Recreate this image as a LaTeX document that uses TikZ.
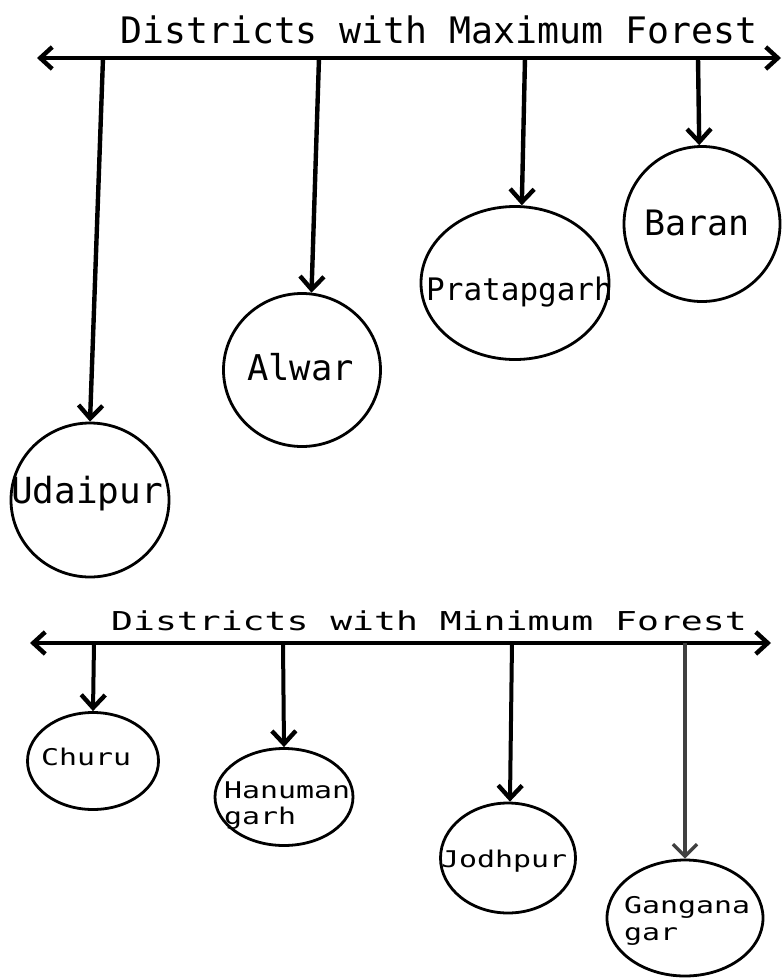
\documentclass[tikz,border=0pt]{standalone}
\usepackage{fontspec}
\usetikzlibrary{arrows.meta,shapes.geometric}
\newfontfamily\dmono{DejaVu Sans Mono}
\newfontfamily\dmonow[FakeStretch=1.4]{DejaVu Sans Mono}
\newfontfamily\dmonol[FakeStretch=1.3]{DejaVu Sans Mono}
\tikzset{
  axisline/.style={line width=4.4pt,{Straight Barb[length=12pt,width=22pt,line width=4.4pt]}-{Straight Barb[length=12pt,width=22pt,line width=4.4pt]}},
  drop/.style={line width=4.4pt,-{Straight Barb[length=13pt,width=24pt,line width=4.4pt]}},
  dropthin/.style={line width=3.4pt,draw=black!75,-{Straight Barb[length=12pt,width=24pt,line width=3.4pt]}},
  district/.style={draw,ellipse,line width=2.8pt,inner sep=0pt},
  lbl/.style={anchor=base west,inner sep=0pt},
  toplbl/.style={lbl,font=\dmono\fontsize{#1}{#1}\selectfont},
  bottitle/.style={lbl,font=\dmonow\fontsize{#1}{#1}\selectfont},
  botlbl/.style={lbl,font=\dmonol\fontsize{#1}{#1}\selectfont},
}
\begin{document}
\begin{tikzpicture}[x=1pt,y=-1pt]
\useasboundingbox[fill=white] (0,0) rectangle (783,978);
% ---------- maximum forest ----------
\node[toplbl=36.5pt] (ttop) at (120,43) {Districts with Maximum Forest};
\coordinate (tl) at (37,58);
\coordinate (tr) at (781,58);
\draw[axisline] (tl) -- (tr);
\coordinate (a1) at (103,58);
\coordinate (a2) at (319,58);
\coordinate (a3) at (525,58);
\coordinate (a4) at (698,58);
\node[district,minimum width=158pt,minimum height=154pt] (udaipur) at (90,500) {};
\node[district,minimum width=157pt,minimum height=153pt] (alwar) at (302,370) {};
\node[district,minimum width=188pt,minimum height=153pt] (pratap) at (515,283) {};
\node[district,minimum width=156pt,minimum height=155pt] (baran) at (702,224) {};
\draw[drop] (a1) -- (udaipur.north);
\draw[drop] (a2) -- (alwar.83);
\draw[drop] (a3) -- (pratap.85);
\draw[drop] (a4) -- (baran.92);
\node[toplbl=36pt] (udaipurt) at (11,503) {Udaipur};
\node[toplbl=35.5pt] (alwart) at (247,380) {Alwar};
\node[toplbl=31pt] (pratapt) at (426,300) {Pratapgarh};
\node[toplbl=35pt] (barant) at (644,235) {Baran};
% ---------- minimum forest ----------
\node[bottitle=26pt] (tbot) at (111,630) {Districts with Minimum Forest};
\coordinate (bl) at (30,643);
\coordinate (br) at (771,643);
\draw[axisline,line width=4pt] (bl) -- (br);
\coordinate (b1) at (94,643);
\coordinate (b2) at (283,643);
\coordinate (b3) at (512,643);
\coordinate (b4) at (685,643);
\node[district,minimum width=131pt,minimum height=97pt] (churu) at (93,761) {};
\node[district,minimum width=138pt,minimum height=97pt] (hanu) at (284,797) {};
\node[district,minimum width=135pt,minimum height=110pt] (jodh) at (508,858) {};
\node[district,minimum width=156pt,minimum height=116pt] (ganga) at (685,918) {};
\draw[drop,line width=4pt] (b1) -- (churu.north);
\draw[drop,line width=4pt] (b2) -- (hanu.north);
\draw[drop,line width=4pt] (b3) -- (jodh.88);
\draw[dropthin] (b4) -- (ganga.north);
\node[botlbl=23pt] (churut) at (41,765) {Churu};
\node[botlbl=23pt] (hanut1) at (224,798) {Hanuman};
\node[botlbl=23pt] (hanut2) at (224,824) {garh};
\node[botlbl=23pt] (jodht) at (441,867) {Jodhpur};
\node[botlbl=23pt] (gangat1) at (624,913) {Gangana};
\node[botlbl=23pt] (gangat2) at (624,940) {gar};
\end{tikzpicture}
\end{document}
